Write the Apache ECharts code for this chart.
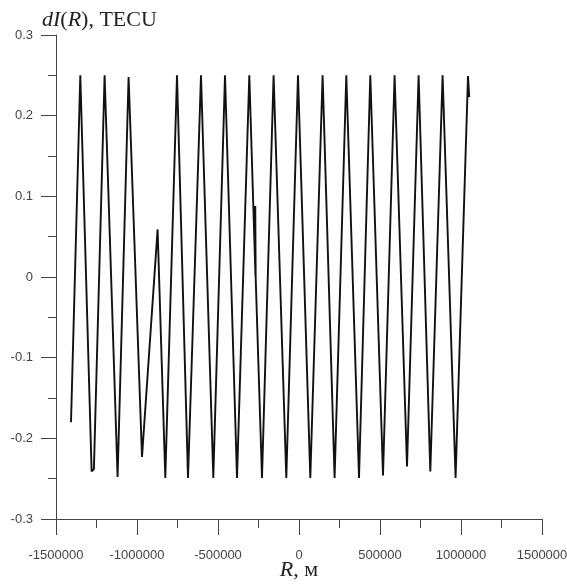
<!DOCTYPE html>
<html>
<head>
<meta charset="utf-8">
<script src="https://cdn.jsdelivr.net/npm/echarts@6/dist/echarts.min.js"></script>
<style>
  html, body { margin: 0; padding: 0; background: #fff; }
  #chart { width: 567px; height: 587px; }
</style>
</head>
<body>
<div id="chart"></div>
<script>
// R, m -- vertices of the trace
const rValues = [
  -1407400, -1350000, -1280000, -1266000, -1200000, -1119800, -1051900,
  -969100, -872800, -825300, -753100, -685200, -605000, -529000,
  -456800, -382700, -306800, -268500, -270000, -267500, -228400,
  -156800, -78400, -6200, 69700, 145700, 219700, 292000, 370400,
  440100, 518500, 590100, 666700, 738300, 810500, 886400, 966600,
  1043200, 1051000
];
// dI(R), TECU
const dIValues = [
  -0.18, 0.25, -0.241, -0.238, 0.25, -0.248, 0.248,
  -0.223, 0.059, -0.249, 0.25, -0.249, 0.25, -0.249,
  0.25, -0.249, 0.25, 0.0, 0.088, 0.0, -0.249,
  0.25, -0.249, 0.25, -0.249, 0.25, -0.249, 0.25, -0.249,
  0.25, -0.246, 0.25, -0.235, 0.25, -0.241, 0.25, -0.249,
  0.249, 0.223
];

const xTicks = { min: -1500000, max: 1500000, step: 500000 };
const yTicks = { min: -0.3, max: 0.3, step: 0.1 };

const chart = echarts.init(document.getElementById('chart'));

const axisColor = '#444';
const serif = 'Liberation Serif, Times New Roman, serif';
const labelStyle = {
  color: '#444',
  fontFamily: 'Liberation Sans, Arial, sans-serif',
  fontSize: 13
};
const richName = {
  i: { fontFamily: serif, fontStyle: 'italic', fontWeight: 'normal', fontSize: 22, color: '#222' },
  n: { fontFamily: serif, fontWeight: 'normal', fontSize: 22, color: '#222' }
};

chart.setOption({
  animation: false,
  backgroundColor: '#fff',
  title: {
    text: '{i|dI}{n|(}{i|R}{n|), TECU}',
    left: 37,
    top: 4,
    textStyle: { fontWeight: 'normal', rich: richName }
  },
  grid: { left: 56, right: 25, top: 35, bottom: 68, outerBoundsMode: 'none', containLabel: false },
  xAxis: {
    type: 'value',
    min: xTicks.min,
    max: xTicks.max,
    interval: xTicks.step,
    name: '{i|R}{n|, м}',
    nameLocation: 'middle',
    nameGap: 40,
    nameMoveOverlap: false,
    nameTextStyle: { rich: richName },
    axisLine: { show: true, onZero: false, lineStyle: { color: axisColor, width: 1 } },
    axisTick: { show: true, length: 16, lineStyle: { color: axisColor } },
    minorTick: { show: true, splitNumber: 2, length: 9, lineStyle: { color: axisColor } },
    splitLine: { show: false },
    axisLabel: Object.assign({
      margin: 30,
      formatter: v => String(v)
    }, labelStyle)
  },
  yAxis: {
    type: 'value',
    min: yTicks.min,
    max: yTicks.max,
    interval: yTicks.step,
    axisLine: { show: true, onZero: false, lineStyle: { color: axisColor, width: 1 } },
    axisTick: { show: true, length: 15, lineStyle: { color: axisColor } },
    minorTick: { show: true, splitNumber: 2, length: 8, lineStyle: { color: axisColor } },
    splitLine: { show: false },
    axisLabel: Object.assign({
      margin: 23,
      formatter: v => String(+v.toFixed(2))
    }, labelStyle)
  },
  series: [{
    type: 'line',
    data: rValues.map((r, i) => [r, dIValues[i]]),
    showSymbol: false,
    lineStyle: { color: '#111', width: 1.9 },
    clip: false
  }]
});
</script>
</body>
</html>
